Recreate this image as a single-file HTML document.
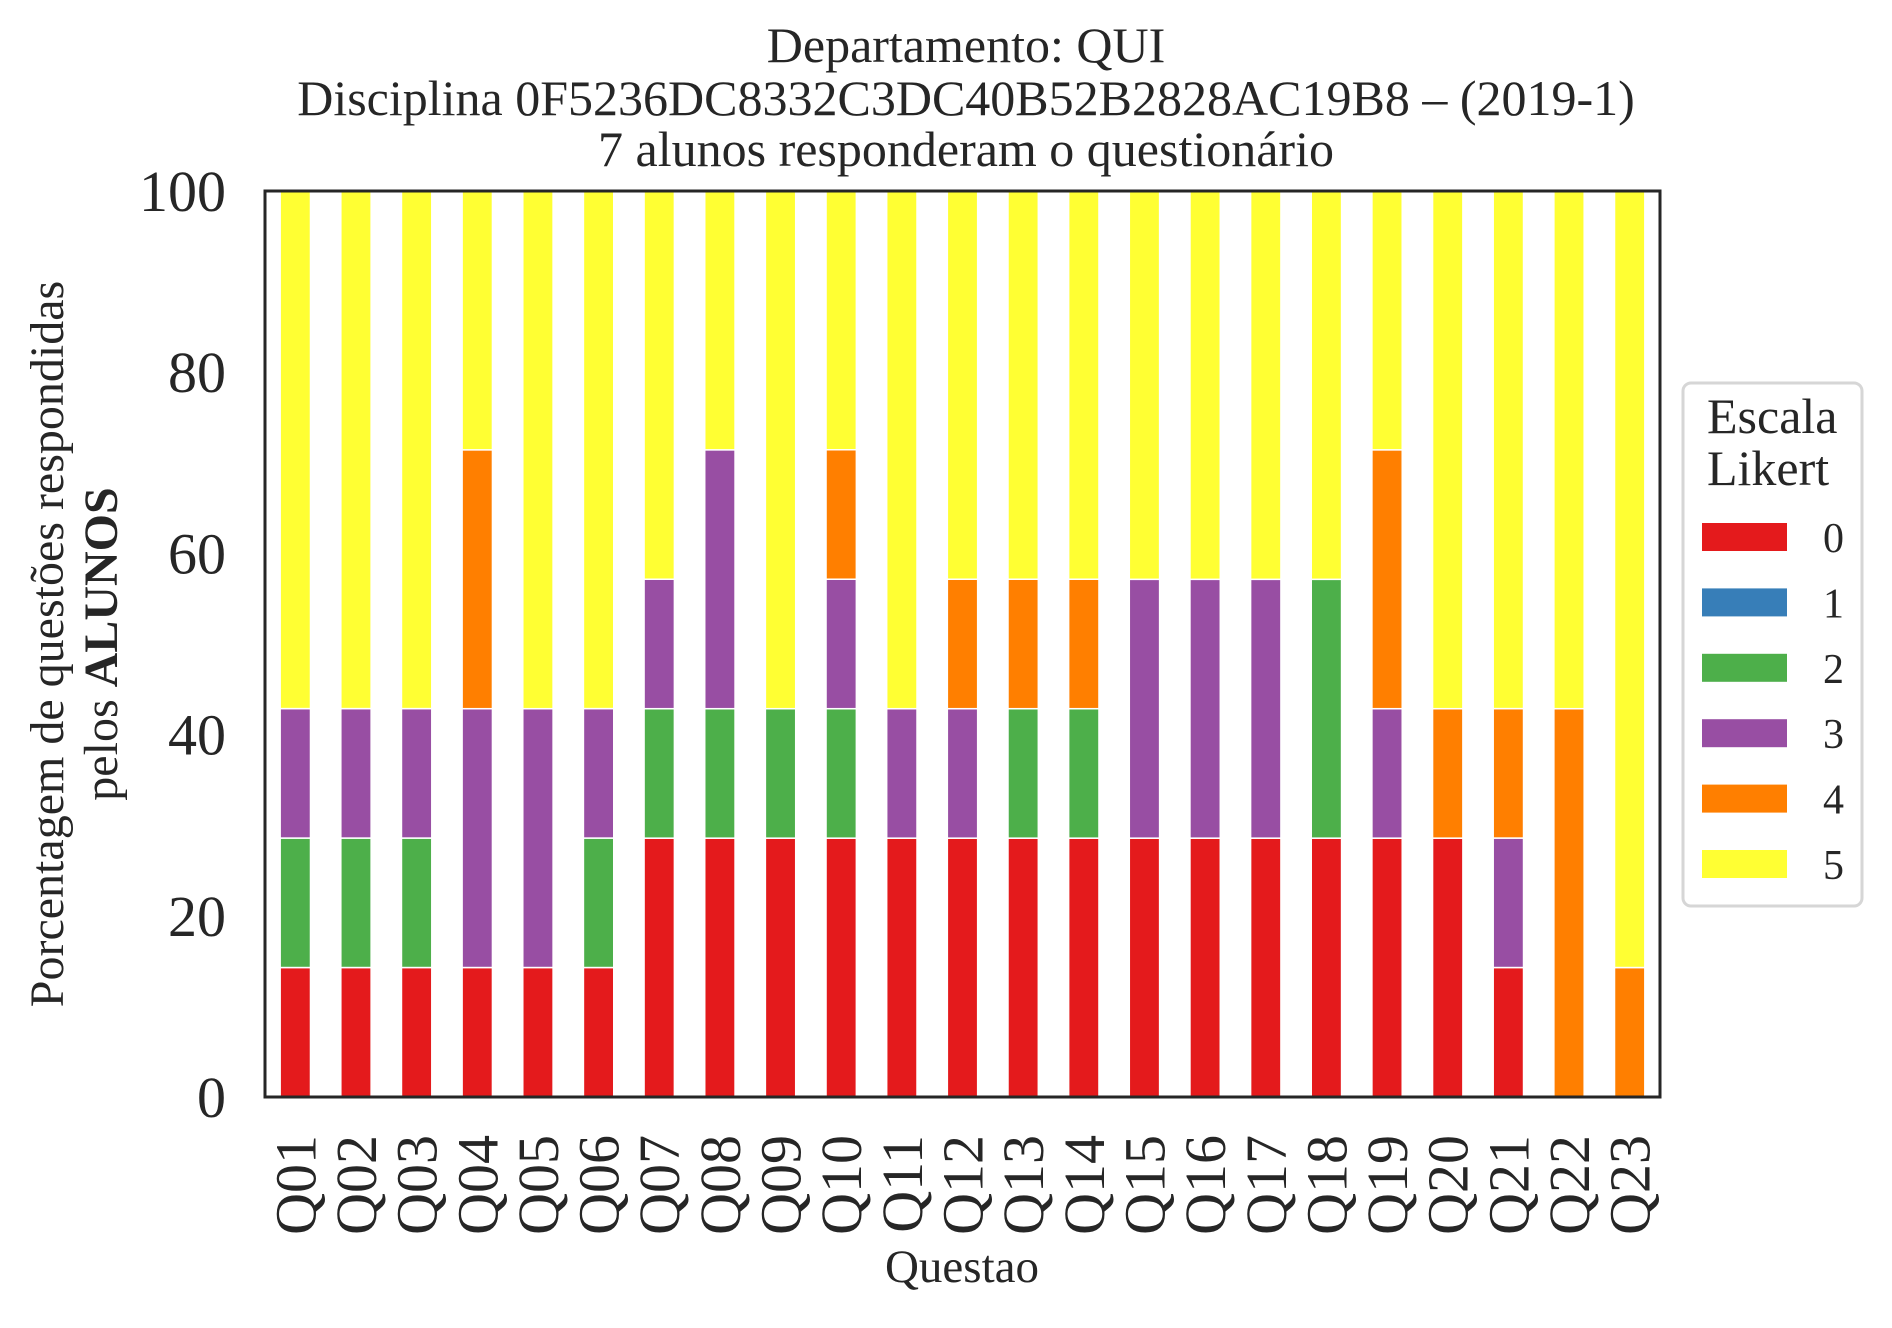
<!DOCTYPE html>
<html><head><meta charset="utf-8"><style>
html,body{margin:0;padding:0;background:#fff;}
svg text{font-family:"Liberation Serif",serif;fill:#262626;}
</style></head><body>
<svg id="chart" width="1892" height="1323" viewBox="0 0 1892 1323" xmlns="http://www.w3.org/2000/svg">
<g id="title">
<text x="966" y="62" font-size="50" text-anchor="middle">Departamento: QUI</text>
<text x="966" y="115" font-size="50" text-anchor="middle">Disciplina 0F5236DC8332C3DC40B52B2828AC19B8 – (2019-1)</text>
<text x="966" y="166" font-size="50" text-anchor="middle">7 alunos responderam o questionário</text>
</g>
<g id="bars"></g>
<rect x="265" y="191" width="1395" height="906" fill="none" stroke="#262626" stroke-width="3"/>
<g id="yticks"></g>
<g id="xticks"></g>
<text x="962" y="1282" font-size="47" text-anchor="middle">Questao</text>
<g>
<text transform="translate(63,644) rotate(-90)" font-size="48" text-anchor="middle">Porcentagem de questões respondidas</text>
<text transform="translate(117,644) rotate(-90)" font-size="48" text-anchor="middle">pelos <tspan font-weight="bold">ALUNOS</tspan></text>
</g>
<g id="legend">
<rect x="1683" y="383" width="179" height="523" rx="8" fill="#fff" stroke="#d6d6d6" stroke-width="3"/>
<text x="1707" y="433" font-size="50">Escala</text>
<text x="1707" y="485" font-size="50">Likert</text>
</g>
</svg>
<script>
const categories = ["Q01","Q02","Q03","Q04","Q05","Q06","Q07","Q08","Q09","Q10","Q11","Q12","Q13","Q14","Q15","Q16","Q17","Q18","Q19","Q20","Q21","Q22","Q23"];
const seriesLabels = ["0","1","2","3","4","5"];
const s0 = [14.29,14.29,14.29,14.29,14.29,14.29,28.57,28.57,28.57,28.57,28.57,28.57,28.57,28.57,28.57,28.57,28.57,28.57,28.57,28.57,14.29,0,0];
const s1 = [0,0,0,0,0,0,0,0,0,0,0,0,0,0,0,0,0,0,0,0,0,0,0];
const s2 = [14.29,14.29,14.29,0,0,14.29,14.29,14.29,14.29,14.29,0,0,14.29,14.29,0,0,0,28.57,0,0,0,0,0];
const s3 = [14.29,14.29,14.29,28.57,28.57,14.29,14.29,28.57,0,14.29,14.29,14.29,0,0,28.57,28.57,28.57,0,14.29,0,14.29,0,0];
const s4 = [0,0,0,28.57,0,0,0,0,0,14.29,0,14.29,14.29,14.29,0,0,0,0,28.57,14.29,14.29,42.86,14.29];
const s5 = [57.14,57.14,57.14,28.57,57.14,57.14,42.86,28.57,57.14,28.57,57.14,42.86,42.86,42.86,42.86,42.86,42.86,42.86,28.57,57.14,57.14,57.14,85.71];
const yTicks = [0,20,40,60,80,100];
const colors = ["#e41a1c","#377eb8","#4daf4a","#984ea3","#ff7f00","#ffff33"];
const series = [s0,s1,s2,s3,s4,s5];
const NS = "http://www.w3.org/2000/svg";
const X0 = 265, X1 = 1660, Y0 = 1097, Y1 = 191;
const step = (X1 - X0) / categories.length;
function xc(i){ return X0 + step * (i + 0.5); }
function ys(v){ return Y0 - (v / 100) * (Y0 - Y1); }
const bars = document.getElementById('bars');
categories.forEach((c, i) => {
  let acc = 0;
  series.forEach((s, k) => {
    const v = s[i];
    if (v <= 0) return;
    const r = document.createElementNS(NS, 'rect');
    
    
    const bw = step * 0.5;
    r.setAttribute('x', xc(i) - bw / 2);
    r.setAttribute('y', ys(acc + v));
    r.setAttribute('width', bw);
    r.setAttribute('height', ys(acc) - ys(acc + v));
    r.setAttribute('fill', colors[k]);
    r.setAttribute('stroke', '#fff');
    r.setAttribute('stroke-width', '1.5');
    bars.appendChild(r);
    acc += v;
  });
});
const yt = document.getElementById('yticks');
yTicks.forEach(t => {
  const tx = document.createElementNS(NS, 'text');
  
  
  tx.setAttribute('x', 226);
  tx.setAttribute('y', ys(t) + 20);
  tx.setAttribute('font-size', '58');
  tx.setAttribute('text-anchor', 'end');
  tx.textContent = t;
  yt.appendChild(tx);
});
const xt = document.getElementById('xticks');
categories.forEach((c, i) => {
  const tx = document.createElementNS(NS, 'text');
  
  
  tx.setAttribute('transform', 'translate(' + (xc(i) + 20) + ',1135) rotate(-90)');
  tx.setAttribute('font-size', '58');
  tx.setAttribute('text-anchor', 'end');
  tx.textContent = c;
  xt.appendChild(tx);
});
const lg = document.getElementById('legend');
seriesLabels.forEach((l, k) => {
  const y = 523 + k * 65.4;
  const r = document.createElementNS(NS, 'rect');
  
  
  r.setAttribute('x', 1702);
  r.setAttribute('y', y);
  r.setAttribute('width', 85);
  r.setAttribute('height', 28);
  r.setAttribute('fill', colors[k]);
  lg.appendChild(r);
  const tx = document.createElementNS(NS, 'text');
  
  
  tx.setAttribute('x', 1823);
  tx.setAttribute('y', y + 29);
  tx.setAttribute('font-size', '42');
  tx.textContent = l;
  lg.appendChild(tx);
});
</script>
</body></html>
